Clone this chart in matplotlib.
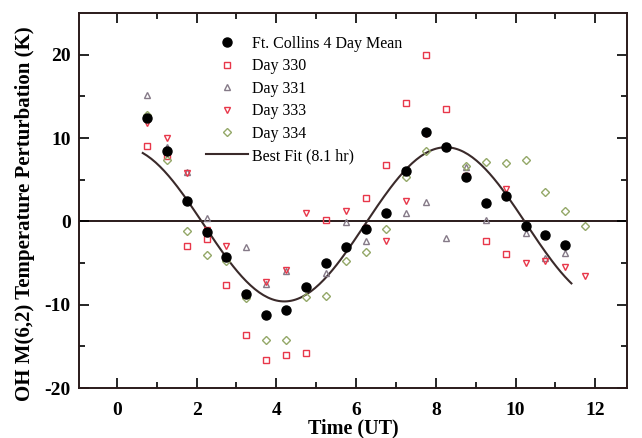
import numpy as np
import matplotlib
matplotlib.use('Agg')
import matplotlib.pyplot as plt

plt.rcParams['font.family'] = 'Liberation Serif'
plt.rcParams['axes.unicode_minus'] = False

# time of each sample (UT hours)
times = [0.75, 1.25, 1.75, 2.25, 2.75, 3.25, 3.75, 4.25, 4.75, 5.25, 5.75, 6.25,
         6.75, 7.25, 7.75, 8.25, 8.75, 9.25, 9.75, 10.25, 10.75, 11.25, 11.75]

nan = np.nan
mean_4day = [12.4, 8.5, 2.5, -1.3, -4.3, -8.7, -11.2, -10.6, -7.9, -5.0, -3.1, -0.9,
             1.0, 6.0, 10.7, 8.9, 5.3, 2.2, 3.1, -0.6, -1.6, -2.8, nan]
day330 = [9.1, 7.8, -2.9, -2.1, -7.6, -13.6, -16.6, -16.0, -15.8, 0.2, nan, 2.8,
          6.8, 14.2, 20.0, 13.5, 5.4, -2.3, -3.9, nan, nan, nan, nan]
day331 = [15.2, 8.9, 5.9, 0.4, nan, -3.1, -7.5, -6.0, nan, -6.2, -0.1, -2.4,
          nan, 1.0, 2.3, -2.0, 6.5, 0.2, nan, -1.4, -4.4, -3.8, nan]
day333 = [11.8, 10.0, 5.8, -1.0, -2.9, nan, -7.3, -5.8, 1.0, nan, 1.2, -0.8,
          -2.4, 2.5, 10.5, 8.9, nan, 2.2, 3.9, -5.0, -4.7, -5.5, -6.6]
day334 = [12.8, 7.4, -1.1, -4.0, -4.7, -9.2, -14.2, -14.2, -9.1, -8.9, -4.8, -3.7,
          -0.9, 5.3, 8.4, nan, 6.7, 7.1, 7.0, 7.4, 3.5, 1.2, -0.5]

# best fit sinusoid (8.1 hr period)
fit_period = 8.1
fit_amp = 9.25
fit_offset = -0.35
fit_peak = 8.25
fit_t = np.linspace(0.65, 11.4, 200)
fit_y = fit_offset + fit_amp * np.cos(2 * np.pi * (fit_t - fit_peak) / fit_period)

fig = plt.figure(figsize=(6.42, 4.38), dpi=100)
ax = fig.add_axes([0.123, 0.114, 0.854, 0.856])

ax.axhline(0, color='#2a1a1a', lw=1.4, zorder=1)
ax.plot(fit_t, fit_y, color='#3a2a2a', lw=1.5, label='Best Fit (8.1 hr)', zorder=2)

red = '#e8374a'
ax.plot(times, mean_4day, 'o', color='black', ms=6.5, label='Ft. Collins 4 Day Mean', zorder=5)
ax.plot(times, day330, 's', mfc='none', mec=red, ms=4.2, mew=1.0, label='Day 330', zorder=4)
ax.plot(times, day331, '^', mfc='none', mec='#857a88', ms=5, mew=1.0, label='Day 331', zorder=4)
ax.plot(times, day333, 'v', mfc='none', mec=red, ms=5, mew=1.0, label='Day 333', zorder=4)
ax.plot(times, day334, 'D', mfc='none', mec='#94a868', ms=4, mew=1.0, label='Day 334', zorder=4)

ax.set_xlim(-0.95, 12.8)
ax.set_ylim(-20, 25)
ax.set_xticks([0, 2, 4, 6, 8, 10, 12])
ax.set_xticks([1, 3, 5, 7, 9, 11], minor=True)
ax.set_yticks([-20, -10, 0, 10, 20])
ax.set_yticks([-15, -5, 5, 15], minor=True)
ax.tick_params(which='both', direction='in', top=True, right=True, width=1.2)
ax.tick_params(which='major', length=7, labelsize=14, pad=6)
ax.tick_params(axis='x', which='major', pad=10)
ax.tick_params(which='minor', length=4)
for lab in ax.get_xticklabels() + ax.get_yticklabels():
    lab.set_fontweight('bold')
for sp in ax.spines.values():
    sp.set_linewidth(1.4)
    sp.set_color('#2a1a1a')

ax.set_xlabel('Time (UT)', fontsize=14.5, fontweight='bold', labelpad=0)
ax.set_ylabel('OH M(6,2) Temperature Perturbation (K)', fontsize=15, fontweight='bold')
ax.yaxis.set_label_coords(-0.081, 0.466)

handles, labels = ax.get_legend_handles_labels()
order = [1, 2, 3, 4, 5, 0]
ax.legend([handles[i] for i in order], [labels[i] for i in order],
          loc='upper left', bbox_to_anchor=(0.232, 0.939), frameon=False,
          fontsize=11.5, handlelength=2.6, handletextpad=0.3, labelspacing=0.4,
          borderpad=0, borderaxespad=0)

fig.savefig('out.png', dpi=100)
